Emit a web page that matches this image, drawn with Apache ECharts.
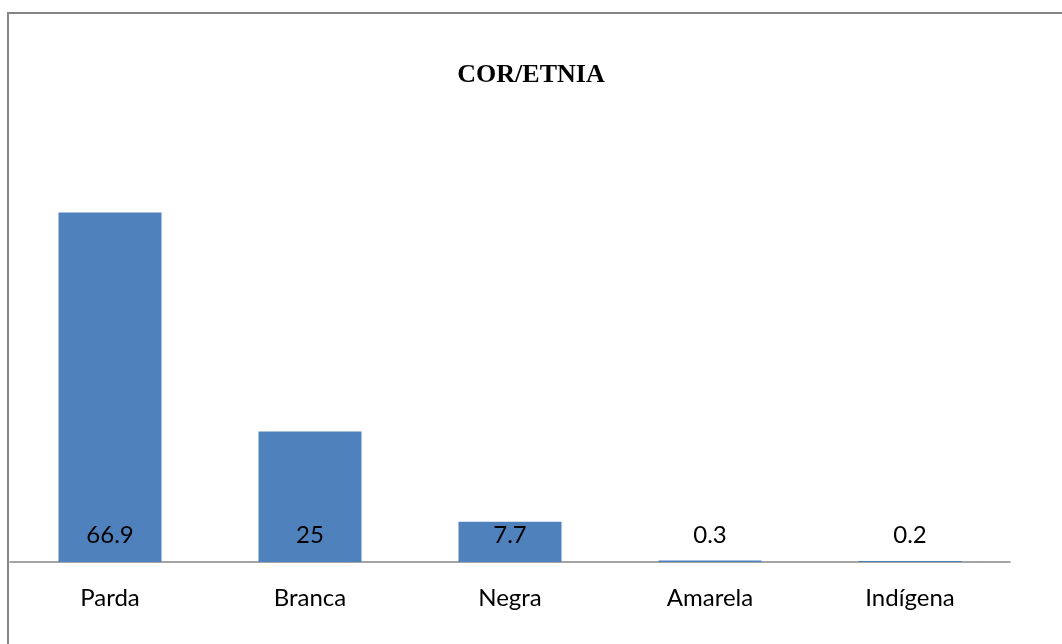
<!DOCTYPE html>
<html><head><meta charset="utf-8">
<script src="https://cdn.jsdelivr.net/npm/echarts@6/dist/echarts.min.js"></script>
<style>html,body{margin:0;padding:0;background:#fff}#c{width:1062px;height:644px}</style>
</head><body><div id="c"></div>
<script>
const categories = ['Parda','Branca','Negra','Amarela','Indígena'];
const values = [66.9, 25, 7.7, 0.3, 0.2];
const titleText = 'COR/ETNIA';

const chart = echarts.init(document.getElementById('c'));
chart.setOption({
  animation: false,
  backgroundColor: '#fff',
  title: {
    text: titleText, left: 'center', top: 57,
    textStyle: { fontFamily: 'Liberation Serif', fontWeight: 'bold', fontSize: 26, color: '#000' }
  },
  graphic: [{
    type: 'rect', shape: { x: 8, y: 13, width: 1200, height: 800 },
    style: { fill: 'none', stroke: '#868686', lineWidth: 2 }, silent: true, z: 100
  }],
  grid: { left: 10, right: 52, bottom: 82, top: 144 },
  xAxis: {
    type: 'category', data: categories,
    axisLine: { lineStyle: { color: '#868686', width: 1.5 } },
    axisTick: { show: false },
    axisLabel: { fontFamily: 'Lato', fontSize: 24, color: '#000', margin: 24 }
  },
  yAxis: { type: 'value', min: 0, max: 80, show: false, splitLine: { show: false } },
  series: [{
    type: 'bar', data: values, barWidth: 103,
    itemStyle: { color: '#4F81BD' },
    label: {
      show: true, position: 'insideBottom', distance: 15,
      fontFamily: 'Lato', fontSize: 24, color: '#000'
    }
  }]
});
</script></body></html>
